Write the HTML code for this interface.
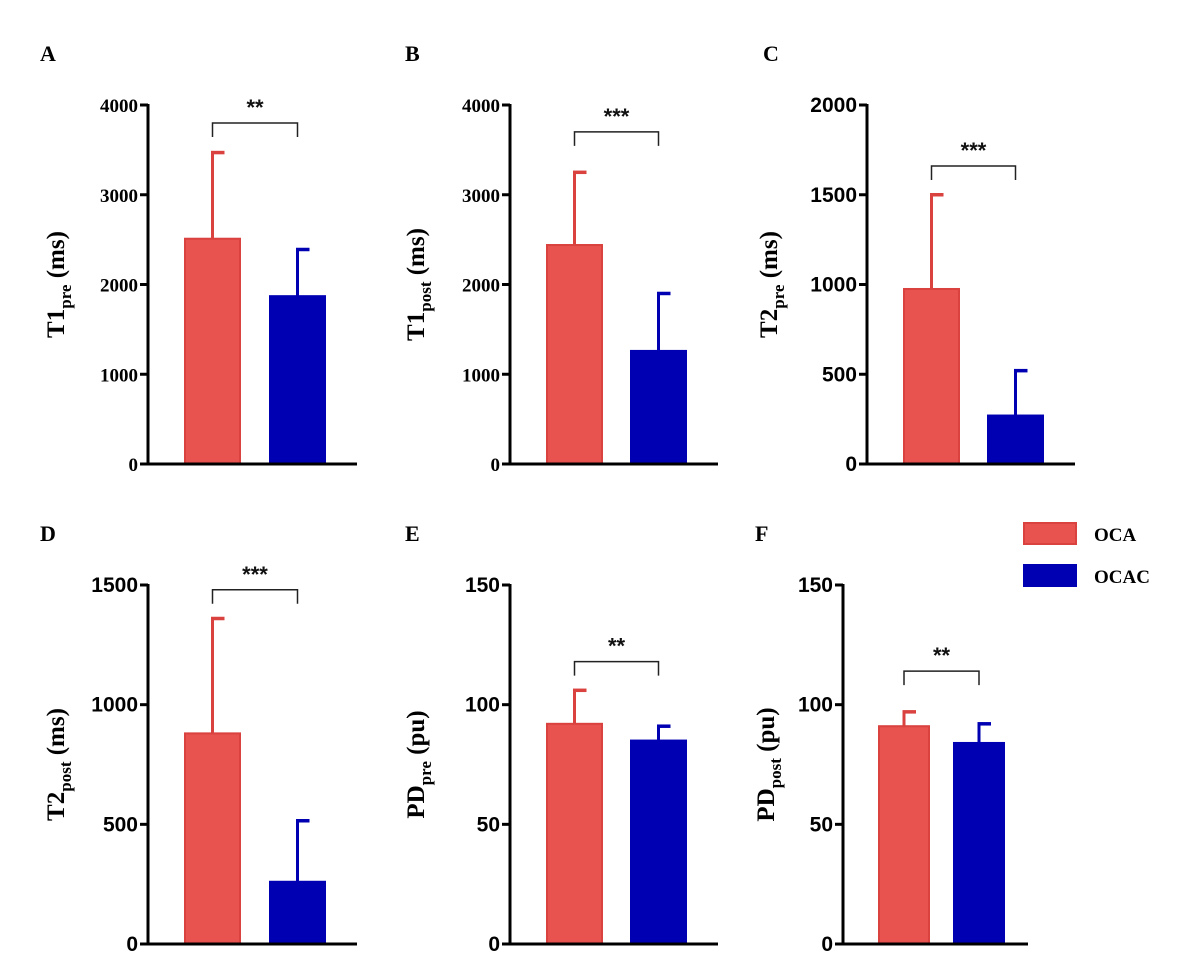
<!DOCTYPE html>
<html><head><meta charset="utf-8"><style>
html,body{margin:0;padding:0;background:#fff;}
svg{display:block;}
</style></head><body>
<svg id="chart" width="1178" height="976" xmlns="http://www.w3.org/2000/svg"></svg>
<script>
const panelLetters = ["A","B","C","D","E","F"];
const yTitleMain = ["T1","T1","T2","T2","PD","PD"];
const yTitleSub = ["pre","post","pre","post","pre","post"];
const yMaxes = [4000,4000,2000,1500,150,150];
const tickLabels = [[0,1000,2000,3000,4000],[0,1000,2000,3000,4000],[0,500,1000,1500,2000],[0,500,1000,1500],[0,50,100,150],[0,50,100,150]];
const ocaMeans = [2510,2440,975,880,92,91];
const ocaErr = [3470,3250,1500,1360,106,97];
const ocacMeans = [1870,1260,270,260,85,84];
const ocacErr = [2390,1900,520,515,91,92];
const sigLevels = ["**","***","***","***","**","**"];
const bracketVals = [3800,3700,1660,1480,118,114];
const seriesNames = ["OCA","OCAC"];

const NS="http://www.w3.org/2000/svg";
const svg=document.getElementById('chart');
function mk(tag,attrs,parent){const e=document.createElementNS(NS,tag);for(const k in attrs)e.setAttribute(k,attrs[k]);(parent||svg).appendChild(e);return e;}
const RED="#e8534f", REDS="#d9423f", BLUE="#0000b3";
const layouts=[
 {ax:148,y0:464,yt:105,r:185,b:270,bw:55,xe:357,lx:40,ly:61,tx:55,serif:true},
 {ax:510,y0:464,yt:105,r:547,b:631,bw:55,xe:718,lx:405,ly:61,tx:415,serif:true},
 {ax:867,y0:464,yt:105,r:904,b:988,bw:55,xe:1075,lx:763,ly:61,tx:768,serif:false},
 {ax:148,y0:944,yt:585,r:185,b:270,bw:55,xe:357,lx:40,ly:541,tx:55,serif:false},
 {ax:510,y0:944,yt:585,r:547,b:631,bw:55,xe:718,lx:405,ly:541,tx:415,serif:false},
 {ax:843,y0:944,yt:585,r:879,b:954,bw:50,xe:1028,lx:755,ly:541,tx:765,serif:false}
];
panelLetters.forEach((L,i)=>{
 const g=mk('g',{});
 
 
 const p=layouts[i];
 const y=v=>p.y0-(v/yMaxes[i])*(p.y0-p.yt);
 const t=mk('text',{x:p.lx,y:p.ly,'font-family':'Liberation Serif, serif','font-weight':'bold','font-size':22,fill:'#000'},g);
 t.textContent=L;
 
 
 [[ocaMeans,ocaErr,p.r,RED,REDS,'bar-oca'],[ocacMeans,ocacErr,p.b,BLUE,BLUE,'bar-ocac']].forEach(([m,e,x,f,s,n])=>{
  const cx=x+p.bw/2;
  const el=mk('line',{x1:cx,x2:cx,y1:y(m[i]),y2:y(e[i]),stroke:s,'stroke-width':3},g);
  
  
  const cap=mk('line',{x1:cx-1.5,x2:cx+12,y1:y(e[i]),y2:y(e[i]),stroke:s,'stroke-width':3.5},g);
  
  
  const r=mk('rect',{x:x,y:y(m[i]),width:p.bw,height:p.y0-y(m[i]),fill:f,stroke:s,'stroke-width':2},g);
  
  
 });
 const ya=mk('line',{x1:p.ax,x2:p.ax,y1:p.yt-1,y2:p.y0+1.5,stroke:'#000','stroke-width':3},g);
 
 
 const xa=mk('line',{x1:p.ax-1.5,x2:p.xe,y1:p.y0,y2:p.y0,stroke:'#000','stroke-width':3},g);
 
 
 tickLabels[i].forEach(v=>{
  mk('line',{x1:p.ax-8,x2:p.ax,y1:y(v),y2:y(v),stroke:'#000','stroke-width':3},g);
  const tl=mk('text',{x:p.ax-10,y:y(v)+7,'text-anchor':'end','font-family':p.serif?'Liberation Serif, serif':'Liberation Sans Narrow, Liberation Sans, sans-serif','font-weight':'bold','font-size':p.serif?19:21,fill:'#000'},g);
  tl.textContent=v;
  
  
 });
 const cy=(p.y0+p.yt)/2;
 const tt=mk('text',{x:0,y:0,transform:`translate(${p.tx+9},${cy}) rotate(-90)`,'text-anchor':'middle','font-family':'Liberation Serif, serif','font-weight':'bold','font-size':25,fill:'#000'},g);
 
 
 const s1=mk('tspan',{},tt);s1.textContent=yTitleMain[i];
 const s2=mk('tspan',{dy:7,'font-size':17},tt);s2.textContent=yTitleSub[i];
 const s3=mk('tspan',{dy:-7},tt);s3.textContent=i>=4?' (pu)':' (ms)';
 const x1=p.r+p.bw/2, x2=p.b+p.bw/2, by=y(bracketVals[i]);
 const br=mk('path',{d:`M${x1},${by+14}V${by}H${x2}V${by+14}`,fill:'none',stroke:'#222','stroke-width':1.5},g);
 
 
 const st=mk('text',{x:(x1+x2)/2,y:by-8,'text-anchor':'middle','font-family':'Liberation Sans, sans-serif','font-size':22,'font-weight':'bold',fill:'#111'},g);
 st.textContent=sigLevels[i];
 
 
});
const lg=mk('g',{});


seriesNames.forEach((n,k)=>{
 const r=mk('rect',{x:1024,y:523+k*42,width:52,height:21,fill:k?BLUE:RED,stroke:k?BLUE:REDS,'stroke-width':2},lg);
 
 
 const t=mk('text',{x:1094,y:541+k*42,'font-family':'Liberation Serif, serif','font-weight':'bold','font-size':19,fill:'#000'},lg);
 t.textContent=n;
 
 
});
</script>
</body></html>
